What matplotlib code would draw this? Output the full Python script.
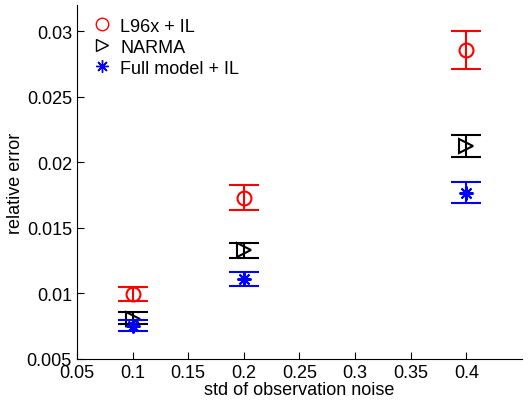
import numpy as np
import matplotlib.pyplot as plt
from matplotlib.lines import Line2D
from matplotlib.ticker import FormatStrFormatter

plt.rcParams['font.family'] = ['Liberation Sans', 'DejaVu Sans']

# ---------- Datos ----------
noise_std = [0.1, 0.2, 0.4]

l96_mean = [0.00995, 0.01731, 0.02859]
l96_low = [0.00943, 0.01637, 0.02713]
l96_high = [0.01051, 0.01826, 0.03002]

narma_mean = [0.00807, 0.01328, 0.02124]
narma_low = [0.00764, 0.01273, 0.02043]
narma_high = [0.00857, 0.01386, 0.02209]

full_mean = [0.00752, 0.01109, 0.01766]
full_low = [0.00711, 0.01054, 0.01686]
full_high = [0.00797, 0.01165, 0.01850]

series = [
    ("L96x + IL", l96_mean, l96_low, l96_high, 'red', 'o'),
    ("NARMA", narma_mean, narma_low, narma_high, 'black', '>'),
    ("Full model + IL", full_mean, full_low, full_high, 'blue', (8, 2, 0)),
]

# ---------- Figura ----------
fig = plt.figure(figsize=(5.3, 4.02), dpi=100)
ax = fig.add_axes([0.145, 0.105, 0.84, 0.88])

handles = []
for label, mean, low, high, color, marker in series:
    mean = np.array(mean)
    yerr = [mean - np.array(low), np.array(high) - mean]
    ax.errorbar(noise_std, mean, yerr=yerr, fmt='none', ecolor=color,
                elinewidth=1.5, capsize=11, capthick=1.5)
    ax.plot(noise_std, mean, linestyle='none', marker=marker, ms=10,
            mfc='none', mec=color, mew=1.5)
    handles.append(Line2D([], [], linestyle='none', marker=marker, ms=9,
                          mfc='none', mec=color, mew=1.0, label=label))

ax.set_xlim(0.05, 0.45)
ax.set_ylim(0.005, 0.032)
ax.set_xticks([0.05, 0.1, 0.15, 0.2, 0.25, 0.3, 0.35, 0.4])
ax.set_yticks([0.005, 0.01, 0.015, 0.02, 0.025, 0.03])
ax.xaxis.set_major_formatter(FormatStrFormatter('%g'))
ax.yaxis.set_major_formatter(FormatStrFormatter('%g'))
ax.tick_params(direction='in', length=5, labelsize=13)
ax.tick_params(axis='x', pad=4)
ax.spines['top'].set_visible(False)
ax.spines['right'].set_visible(False)

ax.set_xlabel('std of observation noise', fontsize=13, labelpad=0)
ax.set_ylabel('relative error', fontsize=13, labelpad=2)

ax.legend(handles=handles, loc='upper left', frameon=False, fontsize=13,
          handlelength=1.0, handletextpad=0.5, borderaxespad=0.0,
          labelspacing=0.22, bbox_to_anchor=(0.02, 0.985))

fig.savefig('out.png', dpi=100)
